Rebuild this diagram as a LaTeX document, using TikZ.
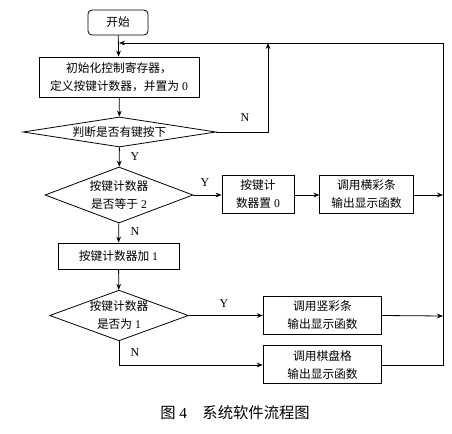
\documentclass[tikz,border=0pt]{standalone}
\usepackage{fontspec}
\setmainfont{Liberation Serif}
\newfontfamily\cjk{Noto Sans CJK SC}
\usetikzlibrary{shapes.geometric,arrows.meta}
\begin{document}
\begin{tikzpicture}[x=0.75pt,y=-0.75pt,
  every node/.style={font=\fontsize{8.8}{13.5}\selectfont, align=center, inner sep=0pt},
  box/.style={draw, rectangle, line width=0.6pt},
  dec/.style={draw, diamond, line width=0.6pt},
  arr/.style={-{Stealth[length=4.5pt,width=3.5pt]}, line width=0.6pt},
  lab/.style={font=\fontsize{9}{11}\selectfont}
]
\useasboundingbox[fill=white] (0,0) rectangle (452,434);
% nodes
\node[box, rounded corners=3pt, minimum width=45pt, minimum height=18.75pt] (start) at (118,22.5) {\cjk 开始};
\node[box, minimum width=120pt, minimum height=30pt] (init) at (119,77) {{\cjk 初始化控制寄存器，}\\{\cjk 定义按键计数器，并置为} 0};
\node[dec, aspect=6.4, minimum width=144.75pt, minimum height=22.5pt] (d1) at (119.5,132) {\cjk 判断是否有键按下};
\node[dec, aspect=2.64, minimum width=111pt, minimum height=42pt] (d2) at (119,195) {{\cjk 按键计数器}\\{\cjk 是否等于} 2};
\node[box, minimum width=54pt, minimum height=28.5pt] (reset) at (258,194) {{\cjk 按键计}\\{\cjk 数器置} 0};
\node[box, minimum width=70pt, minimum height=28.5pt] (hbar) at (366.5,194) {{\cjk 调用横彩条}\\{\cjk 输出显示函数}};
\node[box, minimum width=90.75pt, minimum height=19.5pt] (add) at (118.5,256) {{\cjk 按键计数器加} 1};
\node[dec, aspect=2.74, minimum width=104pt, minimum height=38pt] (d3) at (119,315.5) {{\cjk 按键计数器}\\{\cjk 是否为} 1};
\node[box, minimum width=89pt, minimum height=29pt] (vbar) at (322.5,315.5) {{\cjk 调用竖彩条}\\{\cjk 输出显示函数}};
\node[box, minimum width=89pt, minimum height=29pt] (chess) at (322.5,364.5) {{\cjk 调用棋盘格}\\{\cjk 输出显示函数}};
% coordinates
\coordinate (top) at (119,43);
\coordinate (nj) at (268,43);
\coordinate (n1) at (268,132);
\coordinate (r0) at (443,43);
\coordinate (r1) at (443,195);
\coordinate (r2) at (443,316);
\coordinate (r3) at (443,365);
\coordinate (c3) at (119,365);
% connectors
\draw[arr] (start) -- (init);
\draw[arr] (init) -- (d1);
\draw[arr] (d1.east) -- (n1) -- (nj);
\draw[arr] (d1) -- (d2);
\draw[arr] (d2.east) -- (reset.west |- d2.east);
\draw[arr] (reset.east |- d2.east) -- (hbar.west |- d2.east);
\draw[arr] (hbar.east |- d2.east) -- (r1);
\draw[arr] (d2) -- (add);
\draw[arr] (add) -- (d3);
\draw[arr] (d3.east) -- (vbar.west |- d3.east);
\draw[arr] (vbar.east |- d3.east) -- (r2);
\draw[arr] (d3.south) -- (c3) -- (chess.west |- c3);
\draw[arr] (chess.east |- c3) -- (r3) -- (r0) -- (top);
% labels
\node[lab] (lN1) at (245,118) {N};
\node[lab] (lY1) at (135,157) {Y};
\node[lab] (lY2) at (205,183) {Y};
\node[lab] (lN2) at (135,232) {N};
\node[lab] (lY3) at (224,304) {Y};
\node[lab] (lN3) at (135,353) {N};
\node[font=\fontsize{11.5}{13}\selectfont] (cap) at (235,413) {{\cjk 图} 4{\cjk 　系统软件流程图}};
\end{tikzpicture}
\end{document}
